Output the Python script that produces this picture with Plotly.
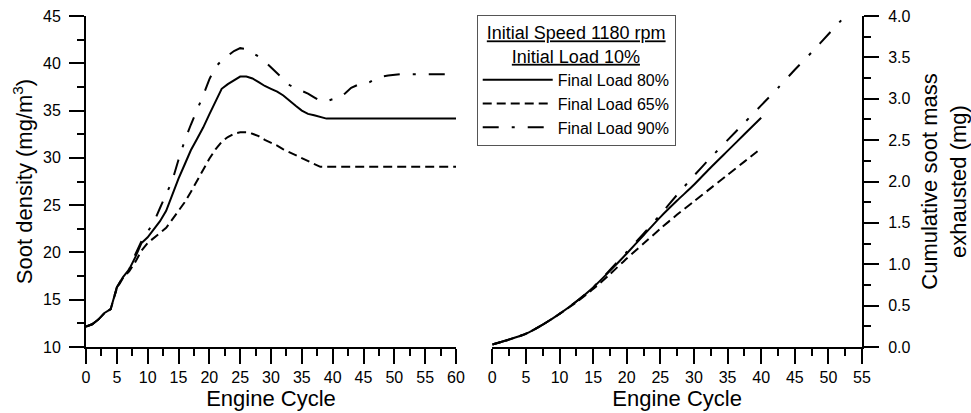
import plotly.graph_objects as go

# ---------------- data ----------------
cycle_left = [0, 1, 2, 3, 4, 5, 6, 7, 8, 9, 10, 11, 12, 13, 14, 15, 16, 17, 18, 19,
              20, 21, 22, 23, 24, 25, 26, 27, 28, 29, 30, 31, 32, 33, 34, 35, 36, 37, 38, 39,
              40, 41, 42, 43, 44, 45, 46, 47, 48, 49, 50, 51, 52, 53, 54, 55, 56, 57, 58, 59, 60]

soot_80 = [12.15, 12.4, 12.9, 13.6, 14.0, 16.3, 17.4, 18.2, 19.5, 21.0,
           21.6, 22.4, 23.3, 24.4, 26.2, 27.8, 29.3, 30.8, 32.0, 33.2,
           34.6, 36.0, 37.3, 37.8, 38.2, 38.6, 38.6, 38.4, 38.0, 37.6,
           37.3, 37.0, 36.6, 36.0, 35.5, 35.0, 34.65, 34.5, 34.3, 34.15,
           34.15, 34.15, 34.15, 34.15, 34.15, 34.15, 34.15, 34.15, 34.15, 34.15,
           34.15, 34.15, 34.15, 34.15, 34.15, 34.15, 34.15, 34.15, 34.15, 34.15, 34.15]

soot_65 = [12.15, 12.4, 12.9, 13.6, 14.0, 16.2, 17.3, 18.0, 19.0, 20.2,
           21.0, 21.5, 22.1, 22.6, 23.5, 24.4, 25.3, 26.4, 27.6, 28.8,
           29.9, 30.9, 31.7, 32.2, 32.55, 32.7, 32.7, 32.55, 32.3, 31.9,
           31.6, 31.3, 30.9, 30.6, 30.3, 30.0, 29.7, 29.4, 29.05, 29.05,
           29.05, 29.05, 29.05, 29.05, 29.05, 29.05, 29.05, 29.05, 29.05, 29.05,
           29.05, 29.05, 29.05, 29.05, 29.05, 29.05, 29.05, 29.05, 29.05, 29.05, 29.05]

soot_90 = [12.15, 12.4, 12.9, 13.6, 14.0, 16.3, 17.4, 18.2, 19.8, 21.2,
           22.2, 23.2, 24.7, 26.2, 27.6, 29.8, 31.8, 33.5, 35.0, 36.6,
           38.3, 39.6, 40.3, 40.8, 41.3, 41.6, 41.5, 41.1, 40.7, 40.2,
           39.6, 39.0, 38.3, 37.7, 37.35, 37.1, 36.8, 36.4, 36.0, 36.0,
           36.2, 36.3, 36.8, 37.4, 37.7, 37.7, 38.0, 38.4, 38.6, 38.7,
           38.8, 38.85, 38.85, 38.85, 38.85, 38.85, 38.85, 38.85, 38.85, 38.85, 38.85]

cycle_right = [0, 2.5, 5, 7.5, 10, 12.5, 15, 17.5, 20, 22.5, 25, 27.5, 30, 32.5, 35, 37.5, 40]
cycle_right_90 = [0, 2.5, 5, 7.5, 10, 12.5, 15, 17.5, 20, 22.5, 25, 27.5, 30, 32.5, 35,
                  37.5, 40, 42.5, 45, 47.5, 50, 52.5]

mass_80 = [0.03, 0.09, 0.16, 0.27, 0.40, 0.55, 0.72, 0.92, 1.13, 1.35, 1.57, 1.77,
           1.96, 2.17, 2.37, 2.57, 2.77]
mass_65 = [0.03, 0.09, 0.16, 0.27, 0.40, 0.54, 0.70, 0.88, 1.07, 1.25, 1.43, 1.60,
           1.76, 1.92, 2.08, 2.24, 2.40]
mass_90 = [0.03, 0.09, 0.16, 0.27, 0.40, 0.55, 0.72, 0.93, 1.15, 1.37, 1.60, 1.84,
           2.07, 2.29, 2.50, 2.71, 2.92, 3.13, 3.35, 3.56, 3.78, 4.00]

series_names = ["Final Load 80%", "Final Load 65%", "Final Load 90%"]
legend_title = ["Initial Speed 1180 rpm", "Initial Load 10%"]

# ---------------- styles ----------------
FONT = "Arial, 'Liberation Sans', sans-serif"
dash_styles = ["solid", "9px,5px", "16px,13px,3px,13px"]
LW = 2

fig = go.Figure()

left_ys = [soot_80, soot_65, soot_90]
for name, ys, dash in zip(series_names, left_ys, dash_styles):
    fig.add_trace(go.Scatter(x=cycle_left, y=ys, mode="lines", name=name,
                             line=dict(color="black", width=LW, dash=dash),
                             xaxis="x", yaxis="y", showlegend=True))

right_data = [(cycle_right, mass_80), (cycle_right, mass_65), (cycle_right_90, mass_90)]
for name, (xs, ys), dash in zip(series_names, right_data, dash_styles):
    fig.add_trace(go.Scatter(x=xs, y=ys, mode="lines", name=name,
                             line=dict(color="black", width=LW, dash=dash, shape="spline",
                                       smoothing=0.6),
                             xaxis="x2", yaxis="y2", showlegend=False))

tick_common = dict(
    showline=True, linecolor="black", linewidth=2,
    ticks="outside", ticklen=15, tickwidth=2, tickcolor="black",
    tickfont=dict(family=FONT, size=16, color="black"),
    showgrid=False, zeroline=False, automargin=False,
)
minor_common = dict(ticks="outside", ticklen=7, tickwidth=2, tickcolor="black", showgrid=False)

# second title line centred under the first (legend title lines are left-aligned)
title_text = ("<u>" + legend_title[0] + "</u><br>" + "&nbsp;" * 5 +
              "<u>" + legend_title[1] + "</u>")

fig.update_layout(
    width=971, height=413,
    margin=dict(l=86, r=109, t=16, b=66),
    paper_bgcolor="white", plot_bgcolor="white",
    font=dict(family=FONT, size=16, color="black"),
    xaxis=dict(domain=[0, 0.4768], range=[0, 60], dtick=5, tick0=0,
               minor=dict(dtick=2.5, tick0=0, **minor_common),
               title=dict(text="Engine Cycle", font=dict(size=22, family=FONT), standoff=4),
               anchor="y", **tick_common),
    yaxis=dict(domain=[0, 1], range=[10, 45], dtick=5, tick0=10, ticklabelstandoff=5,
               minor=dict(dtick=2.5, tick0=10, **minor_common),
               title=dict(text="Soot density (mg/m<sup>3</sup>)", font=dict(size=22, family=FONT),
                          standoff=4),
               anchor="x", **tick_common),
    xaxis2=dict(domain=[0.5236, 1], range=[0, 55], dtick=5, tick0=0,
                minor=dict(dtick=2.5, tick0=0, **minor_common),
                title=dict(text="Engine Cycle", font=dict(size=22, family=FONT), standoff=4),
                anchor="y2", **tick_common),
    yaxis2=dict(domain=[0, 1], range=[0, 4], dtick=0.5, tick0=0, tickformat=".1f",
                ticklabelstandoff=6,
                minor=dict(dtick=0.25, tick0=0, **minor_common),
                title=dict(text="Cumulative soot mass<br>exhausted (mg)",
                           font=dict(size=22, family=FONT), standoff=15),
                anchor="x2", side="right", **tick_common),
    legend=dict(
        x=0.5035, y=1.003, xanchor="left", yanchor="top",
        bgcolor="white", bordercolor="#555555", borderwidth=1,
        font=dict(family=FONT, size=16, color="black"),
        title=dict(text=title_text,
                   side="top center", font=dict(family=FONT, size=18, color="black")),
        tracegroupgap=0, itemwidth=70,
    ),
)

fig.write_html("out.html", config={"displayModeBar": False},
               post_script="document.body.style.margin='0px';")
